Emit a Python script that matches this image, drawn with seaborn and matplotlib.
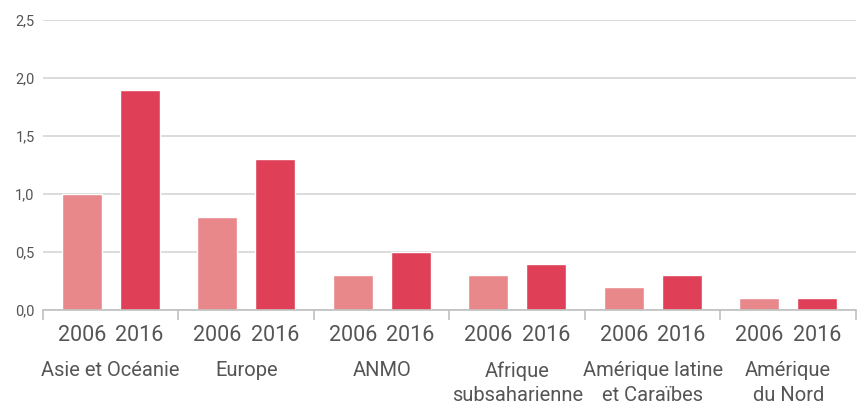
import matplotlib
matplotlib.use("Agg")
import matplotlib.pyplot as plt
import matplotlib.transforms as mtransforms
import seaborn as sns
import pandas as pd
import numpy as np

regions = ["Asie et Océanie", "Europe", "ANMO", "Afrique\nsubsaharienne",
           "Amérique latine\net Caraïbes", "Amérique\ndu Nord"]
years = ["2006", "2016"]
values_2006 = [1.0, 0.8, 0.3, 0.3, 0.2, 0.1]
values_2016 = [1.9, 1.3, 0.5, 0.4, 0.3, 0.1]
yticks = [0.0, 0.5, 1.0, 1.5, 2.0, 2.5]
ytick_labels = ["0,0", "0,5", "1,0", "1,5", "2,0", "2,5"]
colors = {"2006": "#E8888A", "2016": "#DF3F57"}

rows = []
for r, a, b in zip(regions, values_2006, values_2016):
    rows.append({"region": r, "year": "2006", "value": a})
    rows.append({"region": r, "year": "2016", "value": b})
df = pd.DataFrame(rows)

sns.set_theme(style="white")
plt.rcParams["font.family"] = ["Roboto", "DejaVu Sans"]
text_color = "#555555"

fig = plt.figure(figsize=(8.62, 4.05), dpi=100)
ax = fig.add_axes([43/862, 1 - 310/405, (856 - 43)/862, 290/405])

W = 0.852
sns.barplot(data=df, x="region", y="value", hue="year", hue_order=years,
            palette=colors, dodge=True, width=W, gap=0.31, ax=ax,
            legend=False, saturation=1)

n = len(regions)
ax.set_ylim(0, 2.5)
ax.set_xlim(-0.5, n - 0.5)
ax.set_yticks(yticks)
ax.set_yticklabels(ytick_labels, fontsize=10.5, color=text_color)
ax.yaxis.grid(True, color="#d9d9d9", linewidth=1.3)
ax.set_axisbelow(True)

pos, labs = [], []
for i in range(n):
    for j, y in enumerate(years):
        pos.append(i + (j - 0.5) * W / 2)
        labs.append(y)
ax.set_xticks(pos)
ax.set_xticklabels(labs, fontsize=15.5, color=text_color)
ax.set_xticks(np.arange(-0.5, n, 1.0), minor=True)
ax.tick_params(axis="x", which="major", bottom=False, length=0, pad=11)
ax.tick_params(axis="x", which="minor", bottom=True, length=7, width=1.2,
               color="#c0c0c0")
ax.tick_params(axis="y", length=0, pad=6)

for s in ["top", "right", "left"]:
    ax.spines[s].set_visible(False)
ax.spines["bottom"].set_color("#c0c0c0")
ax.spines["bottom"].set_linewidth(1.2)
ax.set_xlabel("")
ax.set_ylabel("")

trans = mtransforms.blended_transform_factory(ax.transData, fig.transFigure)
for i, r in enumerate(regions):
    ax.text(i, 1 - 361/405, r, transform=trans, ha="center", va="top",
            fontsize=14.5, color=text_color, linespacing=1.38)

fig.savefig("out.png", dpi=100)
